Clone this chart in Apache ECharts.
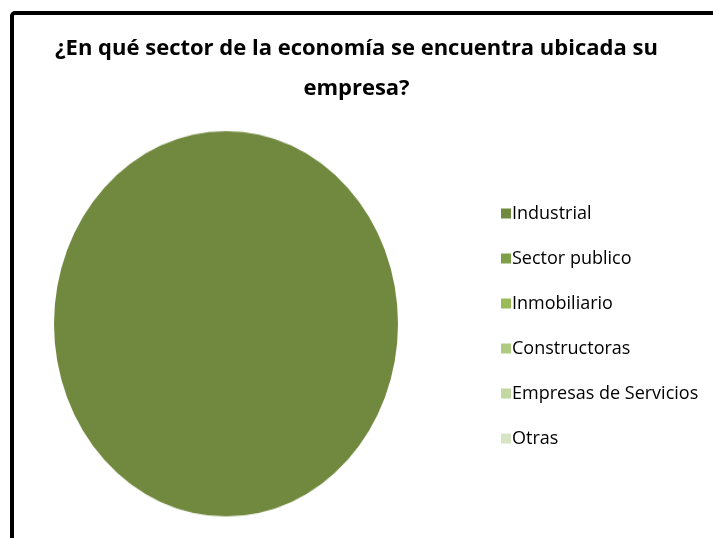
<!DOCTYPE html>
<html>
<head>
<meta charset="utf-8">
<script src="https://cdn.jsdelivr.net/npm/echarts@6/dist/echarts.min.js"></script>
<style>
  html, body { margin: 0; padding: 0; background: #fff; }
  #main { position: absolute; left: 0; top: 0; width: 713px; height: 538px; }
  #pie { position: absolute; left: 53px; top: 130px; width: 346px; height: 346px;
         transform: scale(1, 1.12); transform-origin: 50% 0; }
</style>
</head>
<body>
<div id="main"></div>
<div id="pie"></div>
<script>
// datos
var categories = ['Industrial', 'Sector publico', 'Inmobiliario', 'Constructoras', 'Empresas de Servicios', 'Otras']
var values = [100, 0, 0, 0, 0, 0]
var colors = ['#71893F', '#7E9E48', '#9BBB59', '#AECB80', '#C3D7A2', '#D8E4C6']
var titleText = '¿En qué sector de la economía se encuentra ubicada su\nempresa?'

var pieData = categories.map(function (c, i) {
  return { name: c, value: values[i] }
})

// grafico principal: titulo, leyenda y marco
var mainChart = echarts.init(document.getElementById('main'))
mainChart.setOption({
  animation: false,
  color: colors,
  title: {
    text: titleText,
    left: 'center',
    top: 24,
    textStyle: {
      fontFamily: 'Open Sans',
      fontWeight: 'bold',
      fontSize: 22,
      lineHeight: 40,
      color: '#000'
    }
  },
  legend: {
    orient: 'vertical',
    left: 496,
    top: 199,
    itemWidth: 10,
    itemHeight: 10,
    itemGap: 26,
    itemStyle: { borderWidth: 0 },
    icon: 'rect',
    textStyle: { fontFamily: 'Open Sans', fontSize: 18, lineHeight: 19, color: '#000', padding: [0, 0, 0, -4] },
    data: categories
  },
  graphic: [{
    type: 'rect',
    shape: { x: 12, y: 13, width: 760, height: 600, r: 3 },
    style: { fill: 'none', stroke: '#000', lineWidth: 4 },
    silent: true
  }],
  series: [{
    type: 'pie',
    radius: 0,
    label: { show: false },
    data: pieData
  }]
})

// el pastel (escalado para obtener la forma ovalada)
var pieChart = echarts.init(document.getElementById('pie'))
pieChart.setOption({
  animation: false,
  color: colors,
  series: [{
    type: 'pie',
    radius: 172,
    center: ['50%', '50%'],
    startAngle: 90,
    label: { show: false },
    labelLine: { show: false },
    itemStyle: { borderWidth: 0 },
    data: pieData
  }]
})
</script>
</body>
</html>
